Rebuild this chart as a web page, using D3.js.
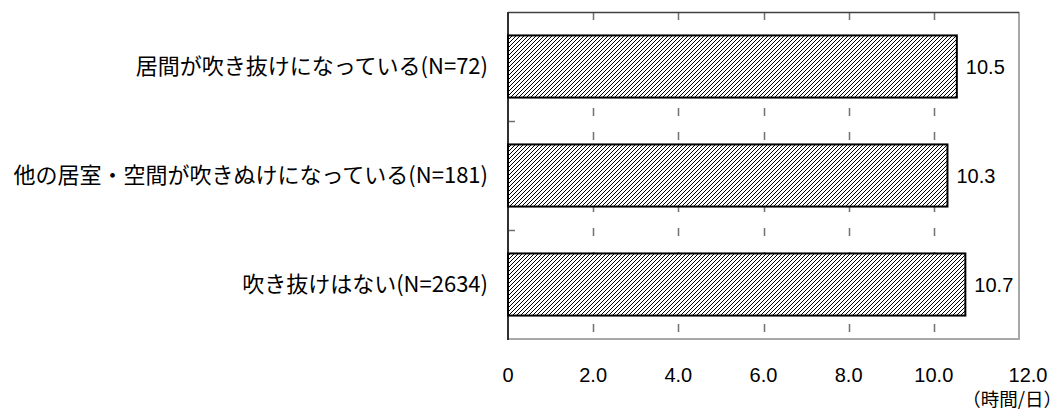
<!DOCTYPE html>
<html>
<head>
<meta charset="utf-8">
<script src="https://cdn.jsdelivr.net/npm/d3@7"></script>
<style>
  html, body { margin: 0; padding: 0; background: #fff; }
  svg { display: block; }
</style>
</head>
<body>
<svg id="chart" width="1064" height="419"></svg>
<script>
const categories = [
  "居間が吹き抜けになっている(N=72)",
  "他の居室・空間が吹きぬけになっている(N=181)",
  "吹き抜けはない(N=2634)"
];
const values = [10.54, 10.32, 10.74];
const xTicks = [0, 2, 4, 6, 8, 10, 12];
const xTickLabels = ["0", "2.0", "4.0", "6.0", "8.0", "10.0", "12.0"];
const unitLabel = "（時間/日）";

const svg = d3.select("#chart");
const L = 508, R = 1019, T = 12, B = 339;

const x = d3.scaleLinear().domain([0, 12]).range([L, R]);
const y = d3.scaleBand().domain(categories).range([T, B]).paddingInner(0.43).paddingOuter(0.215);

// hatch pattern
const defs = svg.append("defs");
const pat = defs.append("pattern")
  .attr("id", "hatch").attr("patternUnits", "userSpaceOnUse")
  .attr("width", 4).attr("height", 4);
pat.append("rect").attr("width", 4).attr("height", 4).attr("fill", "#fff");
pat.append("path").attr("d", "M-1,1 l2,-2 M0,4 l4,-4 M3,5 l2,-2")
  .attr("stroke", "#000").attr("stroke-width", 1);

// dashed vertical gridlines
svg.append("g").selectAll("line")
  .data(xTicks.slice(1, -1))
  .join("line")
  .attr("x1", d => Math.round(x(d)) + 0.5).attr("x2", d => Math.round(x(d)) + 0.5)
  .attr("y1", T).attr("y2", B)
  .attr("stroke", "#707070").attr("stroke-width", 1.5)
  .attr("stroke-dasharray", "8,16");

// category ticks on left axis
const catBounds = categories.slice(1).map(c => y(c) - y.step() * y.paddingInner() / 2);
svg.append("g").selectAll("line")
  .data(catBounds)
  .join("line")
  .attr("x1", L).attr("x2", L + 7)
  .attr("y1", d => Math.round(d) + 0.5).attr("y2", d => Math.round(d) + 0.5)
  .attr("stroke", "#707070").attr("stroke-width", 1.5);

// borders
svg.append("line").attr("x1", R).attr("x2", R).attr("y1", T).attr("y2", B + 1)
  .attr("stroke", "#a8a8a8").attr("stroke-width", 2);
svg.append("line").attr("x1", L).attr("x2", R + 1).attr("y1", B).attr("y2", B)
  .attr("stroke", "#a8a8a8").attr("stroke-width", 2);
svg.append("line").attr("x1", L).attr("x2", R).attr("y1", T + 0.5).attr("y2", T + 0.5)
  .attr("stroke", "#404040").attr("stroke-width", 1.5);
svg.append("line").attr("x1", L).attr("x2", L).attr("y1", T).attr("y2", B + 1)
  .attr("stroke", "#303030").attr("stroke-width", 2);

// bars
svg.append("g").selectAll("rect")
  .data(values)
  .join("rect")
  .attr("x", x(0))
  .attr("y", (d, i) => y(categories[i]))
  .attr("width", d => x(d) - x(0))
  .attr("height", y.bandwidth())
  .attr("fill", "url(#hatch)")
  .attr("stroke", "#000").attr("stroke-width", 2);

// value labels
const fmt = d3.format(".1f");
svg.append("g").selectAll("text")
  .data(values)
  .join("text")
  .attr("x", d => x(d) + 9)
  .attr("y", (d, i) => y(categories[i]) + y.bandwidth() / 2)
  .attr("dy", "0.38em")
  .attr("font-family", "'Liberation Sans', Arial, sans-serif")
  .attr("font-size", 20)
  .attr("fill", "#000")
  .text(d => fmt(d));

// category labels
svg.append("g").selectAll("text")
  .data(categories)
  .join("text")
  .attr("x", L - 20)
  .attr("y", d => y(d) + y.bandwidth() / 2)
  .attr("dy", "0.36em")
  .attr("text-anchor", "end")
  .attr("font-family", "'Noto Sans CJK JP', sans-serif")
  .attr("font-size", 22)
  .attr("fill", "#000")
  .text(d => d);

// x tick labels
svg.append("g").selectAll("text")
  .data(xTicks)
  .join("text")
  .attr("x", (d, i) => x(d) + (i === xTicks.length - 1 ? 9 : 0))
  .attr("y", 382)
  .attr("text-anchor", "middle")
  .attr("font-family", "'Liberation Sans', Arial, sans-serif")
  .attr("font-size", 20)
  .attr("fill", "#000")
  .text((d, i) => xTickLabels[i]);

// unit label
svg.append("text")
  .attr("x", 1062).attr("y", 406)
  .attr("text-anchor", "end")
  .attr("font-family", "'Noto Sans CJK JP', sans-serif")
  .attr("font-size", 18.5)
  .attr("fill", "#000")
  .text(unitLabel);
</script>
</body>
</html>
